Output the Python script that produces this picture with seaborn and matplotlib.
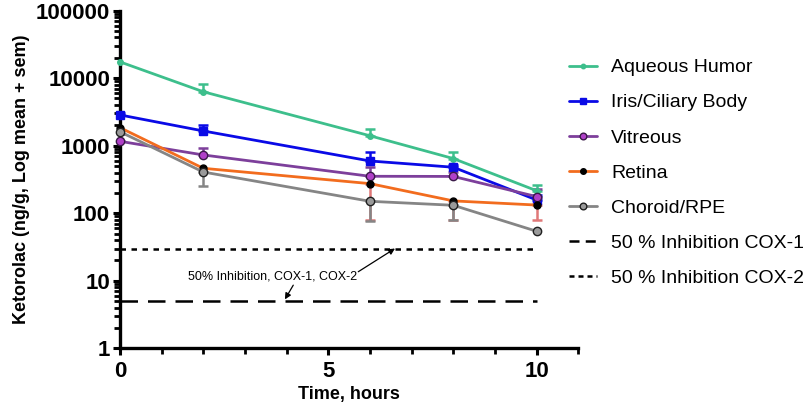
import numpy as np
import pandas as pd
import matplotlib
matplotlib.use("Agg")
import matplotlib.pyplot as plt
import seaborn as sns
from matplotlib.ticker import LogLocator, FixedLocator, NullFormatter, FuncFormatter
from matplotlib.lines import Line2D

# ---- data ----
time_h = [0, 2, 6, 8, 10]
aqueous = [17400, 6280, 1400, 644, 215]
aqueous_top = [17400, 8100, 1750, 807, 261]
iris = [2850, 1650, 593, 479, 157]
iris_top = [3050, 2000, 798, 520, 185]
vitreous = [1160, 728, 352, 350, 176]
vitreous_top = [1500, 933, 489, 410, 226]
retina = [1850, 462, 274, 152, 132]
retina_low = [1850, 462, 78, 78, 79]
choroid = [1610, 407, 150, 131, 54]
choroid_low = [1610, 253, 76, 78, 54]
cox1 = 5
cox2 = 30
series_names = ["Aqueous Humor", "Iris/Ciliary Body", "Vitreous", "Retina", "Choroid/RPE"]

sns.set_style("ticks")
plt.rcParams['font.family'] = ['Liberation Sans', 'DejaVu Sans']
plt.rcParams.update({
    "text.color": "black", "axes.labelcolor": "black", "axes.edgecolor": "black",
    "xtick.color": "black", "ytick.color": "black",
})

fig = plt.figure(figsize=(8.1, 4.05), dpi=100)
ax = fig.add_axes([0.148, 0.14, 0.566, 0.834])

styles = {
    "Aqueous Humor": dict(color="#3dbf8c", marker="o", ms=4, mfc="#3dbf8c", mec="#3dbf8c"),
    "Iris/Ciliary Body": dict(color="#0a0ae6", marker="s", ms=6, mfc="#0a0ae6", mec="#0a0ae6"),
    "Vitreous": dict(color="#7d3f9b", marker="o", ms=6, mfc="#b040c8", mec="#3a1a48"),
    "Retina": dict(color="#f26c1e", marker="o", ms=5, mfc="black", mec="black"),
    "Choroid/RPE": dict(color="#858585", marker="o", ms=6, mfc="#9a9a9a", mec="#202020"),
}
values = {
    "Aqueous Humor": aqueous,
    "Iris/Ciliary Body": iris,
    "Vitreous": vitreous,
    "Retina": retina,
    "Choroid/RPE": choroid,
}

# error bars
err_specs = [
    (aqueous, np.array(aqueous_top) - np.array(aqueous), "up", "#3dbf8c"),
    (iris, np.array(iris_top) - np.array(iris), "up", "#0a0ae6"),
    (vitreous, np.array(vitreous_top) - np.array(vitreous), "up", "#7d3f9b"),
    (retina, np.array(retina) - np.array(retina_low), "down", "#e07878"),
    (choroid, np.array(choroid) - np.array(choroid_low), "down", "#858585"),
]
for y, e, d, c in err_specs:
    e = np.array(e, dtype=float)
    zero = np.zeros_like(e)
    yerr = [zero, e] if d == "up" else [e, zero]
    mask = e > 0
    ax.errorbar(np.array(time_h)[mask], np.array(y)[mask],
                yerr=[yerr[0][mask], yerr[1][mask]], fmt="none",
                ecolor=c, elinewidth=1.8, capsize=3.5, capthick=1.8, zorder=2)

handles = []
for name in series_names:
    st = styles[name]
    df = pd.DataFrame({"t": time_h, "v": values[name]})
    sns.lineplot(data=df, x="t", y="v", ax=ax, color=st["color"], lw=2.0,
                 marker=st["marker"], markersize=st["ms"],
                 markerfacecolor=st["mfc"], markeredgecolor=st["mec"],
                 markeredgewidth=1.0, zorder=3, clip_on=False, legend=False)
    handles.append(Line2D([], [], color=st["color"], lw=2.0, marker=st["marker"],
                          ms=st["ms"] * 0.8, mfc=st["mfc"], mec=st["mec"], mew=1.0))

ax.hlines(cox1, 0, 10, colors="black", linestyles=(0, (7, 4)), lw=1.8, zorder=2)
ax.hlines(cox2, 0, 10, colors="black", linestyles=(0, (2.2, 2.2)), lw=1.8, zorder=2)
handles.append(Line2D([], [], color="black", lw=1.8, ls=(0, (4, 2.5))))
handles.append(Line2D([], [], color="black", lw=1.8, ls=(0, (2, 1.6))))
labels = series_names + ["50 % Inhibition COX-1", "50 % Inhibition COX-2"]

# annotation
ax.text(3.66, 11.5, "50% Inhibition, COX-1, COX-2", fontsize=9, ha="center", va="center")
ax.annotate("", xy=(6.6, 30), xytext=(5.72, 13.6),
            arrowprops=dict(arrowstyle="-|>", lw=0.9, color="black", mutation_scale=9,
                            shrinkA=0, shrinkB=0))
ax.annotate("", xy=(3.96, 5.3), xytext=(4.16, 8.6),
            arrowprops=dict(arrowstyle="-|>", lw=0.9, color="black", mutation_scale=9,
                            shrinkA=0, shrinkB=0))

ax.set_yscale("log")
ax.set_ylim(1, 100000)
ax.set_xlim(0, 11)
ax.yaxis.set_major_locator(FixedLocator([1, 10, 100, 1000, 10000, 100000]))
ax.yaxis.set_major_formatter(FuncFormatter(lambda v, p: f"{int(round(v))}"))
ax.yaxis.set_minor_locator(LogLocator(base=10, subs=np.arange(2, 10)))
ax.yaxis.set_minor_formatter(NullFormatter())
ax.xaxis.set_major_locator(FixedLocator([0, 5, 10]))
ax.xaxis.set_minor_locator(FixedLocator([1, 2, 3, 4, 6, 7, 8, 9, 11]))

for s in ["top", "right"]:
    ax.spines[s].set_visible(False)
for s in ["left", "bottom"]:
    ax.spines[s].set_linewidth(2.4)
ax.tick_params(axis="both", which="major", length=5, width=2.2, labelsize=16, pad=2)
ax.tick_params(axis="x", which="major", pad=4)
ax.tick_params(axis="both", which="minor", length=4, width=2.0)
for lab in ax.get_xticklabels() + ax.get_yticklabels():
    lab.set_fontweight("bold")

ax.set_xlabel("Time, hours", fontsize=13, fontweight="bold", labelpad=3)
ax.set_ylabel("Ketorolac (ng/g, Log mean + sem)", fontsize=13, fontweight="bold", labelpad=4)

fig.legend(handles, labels, loc="upper left", bbox_to_anchor=(0.703, 0.855),
           frameon=False, fontsize=14, handlelength=1.4, handletextpad=0.75,
           labelspacing=0.9, borderpad=0, borderaxespad=0)

fig.savefig("out.png", dpi=100)
